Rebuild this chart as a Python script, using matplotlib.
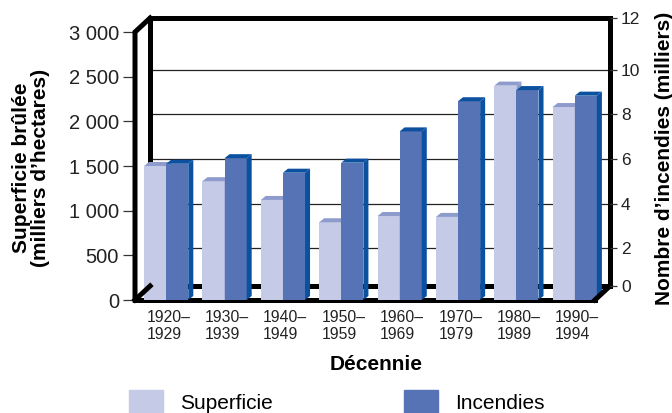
import numpy as np
import matplotlib.pyplot as plt
from matplotlib.patches import Polygon, Patch

plt.rcParams['font.family'] = ['Liberation Sans', 'DejaVu Sans']

# superficie brûlée (milliers d'hectares) et nombre d'incendies (milliers), par décennie
decennies = ['1920–\n1929', '1930–\n1939', '1940–\n1949', '1950–\n1959',
             '1960–\n1969', '1970–\n1979', '1980–\n1989', '1990–\n1994']
superficie = [1500, 1330, 1120, 870, 940, 930, 2400, 2160]
incendies = [6.1, 6.35, 5.7, 6.15, 7.55, 8.9, 9.4, 9.15]

left_ticks = [0, 500, 1000, 1500, 2000, 2500, 3000]
left_labels = ['0', '500', '1 000', '1 500', '2 000', '2 500', '3 000']
right_vals = [0, 2, 4, 6, 8, 10, 12]

c_sup = '#c5cae6'
c_sup_top = '#8e9bcd'
c_inc = '#5573b5'
c_inc_dark = '#0b51a0'

ratio = 250.0          # 1 000 incendies <-> 250 milliers d'ha on the shared scale
inc_scaled = [v * ratio for v in incendies]

# fake 3d: depth of the box and of the bars, in data units
DX, DY = 0.259, 157.0
bdx, bdy = 0.086, 45.0
w = 0.379
x0, x1 = -0.534, 7.345

fig = plt.figure(figsize=(6.72, 4.13), dpi=100)
ax = fig.add_axes([135 / 672, 113 / 413, 475 / 672, 282 / 413])
ax.set_xlim(x0, x1 + DX)
ax.set_ylim(0, 3000 + DY)
for s in ax.spines.values():
    s.set_visible(False)

# back wall gridlines
for k in range(1, 6):
    y = 500 * k + DY / 2
    ax.plot([x0 + DX, x1 + DX], [y, y], color='#222222', lw=0.9, zorder=1)

# box edges
lw = 3.6
def edge(xs, ys, z=1.5):
    ax.plot(xs, ys, color='black', lw=lw, solid_capstyle='projecting',
            solid_joinstyle='miter', zorder=z, clip_on=False)

edge([x0 + DX, x0 + DX, x1 + DX, x1 + DX], [DY, 3000 + DY, 3000 + DY, DY])
edge([x0 + DX, x1 + DX], [DY, DY])
edge([x0, x0, x0 + DX], [0, 3000, 3000 + DY], z=5)
edge([x0, x0 + DX], [0, DY], z=5)
edge([x1, x1 + DX], [0, DY], z=5)
edge([x0, x1], [0, 0])

x = np.arange(len(decennies))

def bar3d(xl, h, front, dark, z):
    xr = xl + w
    ax.bar(xl, h, width=w, align='edge', color=front, linewidth=0, zorder=z)
    ax.add_patch(Polygon([(xr, 0), (xr + bdx, bdy), (xr + bdx, h + bdy), (xr, h)],
                         closed=True, color=dark, lw=0, zorder=z))
    ax.add_patch(Polygon([(xl, h), (xl + bdx, h + bdy), (xr + bdx, h + bdy), (xr, h)],
                         closed=True, color=dark, lw=0, zorder=z))

for i in x:
    bar3d(i - w, superficie[i], c_sup, c_sup_top, 2 + 0.01 * i)
    bar3d(i, inc_scaled[i], c_inc, c_inc_dark, 2.005 + 0.01 * i)

# left axis (front plane)
ax.set_yticks(left_ticks)
ax.set_yticklabels(left_labels, fontsize=14.5, color='#222222')
ax.tick_params(axis='y', length=8.6, width=0.9, color='#333333', pad=3)

ax.set_xticks(x + 0.04)
ax.set_xticklabels(decennies, fontsize=11.3, color='#222222', linespacing=1.15)
for lbl in ax.get_xticklabels():
    lbl.set_multialignment('left')
ax.tick_params(axis='x', length=0, pad=7)

# right axis follows the back wall
ax2 = ax.twinx()
ax2.set_ylim(ax.get_ylim())
for s in ax2.spines.values():
    s.set_visible(False)
right_pos = [DY] + [v * ratio + DY / 2 for v in right_vals[1:-1]] + [3000 + DY]
ax2.set_yticks(right_pos)
ax2.set_yticklabels([str(v) for v in right_vals], fontsize=12.5, color='#222222')
ax2.tick_params(axis='y', length=5, width=0.9, color='#333333', pad=3)

fig.text(31 / 672, 1 - 168 / 413, 'Superficie brûlée\n(milliers d’hectares)',
         rotation=90, ha='center', va='center', fontsize=15, fontweight='bold',
         linespacing=1.0)
fig.text(664 / 672, 1 - 158 / 413, 'Nombre d’incendies (milliers)',
         rotation=90, ha='center', va='center', fontsize=15, fontweight='bold')
fig.text(376 / 672, 1 - 364 / 413, 'Décennie', ha='center', va='center',
         fontsize=15, fontweight='bold')

handles = [Patch(color=c_sup), Patch(color=c_inc)]
fig.legend(handles, ['Superficie', 'Incendies'], loc='upper left',
           bbox_to_anchor=(129 / 672, 1 - 390 / 413), ncol=2, frameon=False,
           fontsize=15, handlelength=1.63, handleheight=1.4, handletextpad=0.82,
           columnspacing=6.3, borderpad=0, borderaxespad=0)

fig.savefig('out.png', dpi=100)
